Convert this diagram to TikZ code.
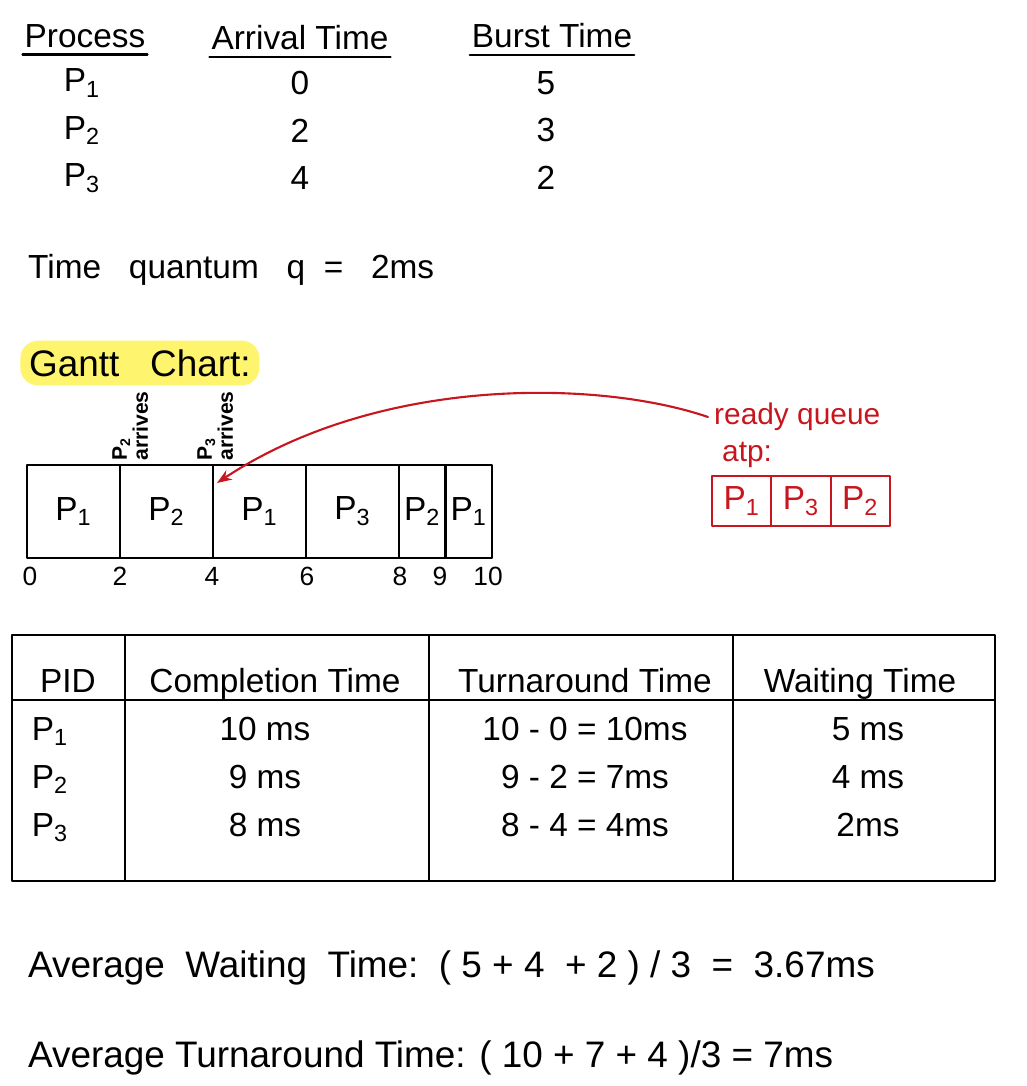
\documentclass[tikz,border=0pt]{standalone}
\usepackage{fontspec}
\setmainfont{Liberation Sans}
\usetikzlibrary{arrows.meta,positioning}
\definecolor{penred}{RGB}{200,22,30}
\definecolor{marker}{RGB}{255,244,110}
\begin{document}
\begin{tikzpicture}[x=0.02cm,y=-0.02cm,line join=round,line cap=round,>=Stealth,
  every node/.style={font=\fontsize{19}{22}\selectfont},
  hdr/.style={inner sep=1pt},
  uline/.style={line width=1.4pt},
  cell/.style={draw,line width=1.2pt,minimum height=1.86cm,inner sep=0pt},
  tick/.style={font=\fontsize{15}{17}\selectfont},
  arrlab/.style={font=\fontsize{12}{12}\selectfont\bfseries,rotate=90,align=left,anchor=north west,inner sep=0pt},
  tbl/.style={line width=1.4pt},
  txt/.style={anchor=base},
  qcell/.style={draw=penred,text=penred,line width=1.1pt,minimum width=1.186cm,minimum height=1cm,inner sep=0pt},
  big/.style={font=\fontsize{21}{24}\selectfont,anchor=west}]
\useasboundingbox (0,0) rectangle (1027,1086);
% process table
\node[hdr] (hproc) at (85,36) {Process};
\node[hdr] (harr) at (300,38) {Arrival Time};
\node[hdr] (hbur) at (552,36) {Burst Time};
\foreach \h in {hproc,harr,hbur}
  \draw[uline] ([yshift=-4pt]\h.base west) -- ([yshift=-4pt]\h.base east);
\foreach \i/\a/\b in {1/0/5,2/2/3,3/4/2}{
  \node (p\i) at (82,{83+47.5*(\i-1)}) {P\textsubscript{\i}};
  \node (a\i) at (300,{83+47.5*(\i-1)}) {\a};
  \node (b\i) at (546,{83+47.5*(\i-1)}) {\b};
}
\node[anchor=west] (tq) at (22,270) {Time\ \ \ quantum\ \ \ q\ \ =\ \ \ 2ms};
% gantt chart
\node[fill=marker,rounded corners=10pt,inner sep=5pt,anchor=west,font=\fontsize{21}{24}\selectfont] (gantt) at (20,363) {Gantt\ \ \ Chart:};
\foreach \s/\e/\p [count=\n] in {0/2/1,2/4/2,4/6/1,6/8/3,8/9/2,9/10/1}
  \node[cell,minimum width={(\e-\s)*0.93cm}] (g\n) at ({27+46.5*(\s+\e)/2},511.5) {P\textsubscript{\p}};
\foreach \t/\xx in {0/30,2/120,4/212,6/307,8/400,9/440,10/488}
  \node[tick] (t\t) at (\xx,576) {\t};
\node[arrlab] (arr2) at (112,461) {P\textsubscript{2}\\arrives};
\node[arrlab] (arr3) at (197,461) {P\textsubscript{3}\\arrives};
% ready queue
\node[text=penred,anchor=west,font=\fontsize{17}{20}\selectfont] (rq) at (708,417) {ready queue};
\node[text=penred,anchor=west,font=\fontsize{17}{20}\selectfont] (atp) at (716,455) {atp:};
\coordinate (hit) at (217,483);
\draw[penred,->,line width=1.2pt] (rq.west) .. controls (600,380) and (380,375) .. (hit);
\foreach \p [count=\n] in {1,3,2}
  \node[qcell] (q\n) at ({712+59.3*(\n-0.5)},501) {P\textsubscript{\p}};
% results table
\draw[tbl] (12,635) rectangle (995,881);
\draw[tbl] (12,700) -- (995,700);
\foreach \xx in {125,429,733} \draw[tbl] (\xx,635) -- (\xx,881);
\node[txt] (hpid) at (68,692) {PID};
\node[txt] (hct) at (275,692) {Completion Time};
\node[txt] (htat) at (585,692) {Turnaround Time};
\node[txt] (hwt) at (860,692) {Waiting Time};
\foreach \i/\c/\t/\w in {1/10 ms/10 - 0 = 10ms/5 ms,2/9 ms/9 - 2 = 7ms/4 ms,3/8 ms/8 - 4 = 4ms/2ms}{
  \node[txt] (pid\i) at (50,{740+48*(\i-1)}) {P\textsubscript{\i}};
  \node[txt] (ct\i) at (265,{740+48*(\i-1)}) {\c};
  \node[txt] (tat\i) at (585,{740+48*(\i-1)}) {\t};
  \node[txt] (wt\i) at (868,{740+48*(\i-1)}) {\w};
}
% averages
\node[big] (avgw) at (22,968) {Average\ \ Waiting\ \ Time:\ \ (\ 5\ +\ 4\ \ +\ 2\ )\ /\ 3\ \ =\ \ 3.67ms};
\node[big] (avgt) at (22,1058) {Average Turnaround Time: ( 10 + 7 + 4 )/3 = 7ms};
\end{tikzpicture}
\end{document}
